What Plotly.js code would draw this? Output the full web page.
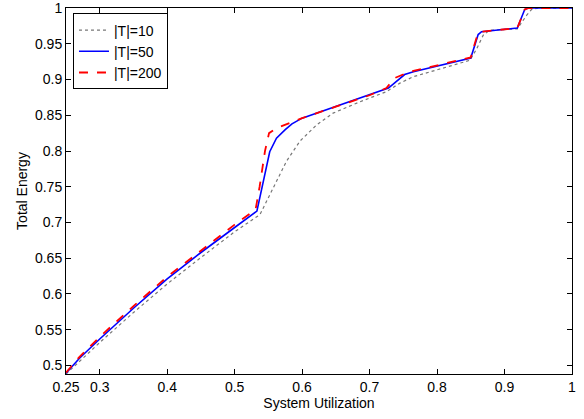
<!DOCTYPE html>
<html>
<head>
<meta charset="utf-8">
<script src="https://cdn.plot.ly/plotly-3.0.1.min.js"></script>
<style>html,body{margin:0;padding:0;background:#fff;}#chart{width:584px;height:419px;}</style>
</head>
<body>
<div id="chart"></div>
<script>
// |T|=10 (dotted)
const x10 = [0.25, 0.27, 0.30, 0.35, 0.40, 0.45, 0.50, 0.5375, 0.555, 0.577, 0.597, 0.622, 0.646, 0.686, 0.725, 0.745, 0.765, 0.849, 0.859, 0.8685, 0.878, 0.919, 0.933, 0.94, 0.95, 1.0];
const y10 = [0.488, 0.506, 0.532, 0.574, 0.614, 0.651, 0.687, 0.711, 0.744, 0.786, 0.814, 0.837, 0.853, 0.869, 0.883, 0.895, 0.904, 0.927, 0.9435, 0.962, 0.969, 0.971, 0.990, 0.998, 1.0, 1.0];
// |T|=50 (solid)
const x50 = [0.25, 0.27, 0.30, 0.35, 0.40, 0.45, 0.50, 0.533, 0.552, 0.562, 0.575, 0.585, 0.60, 0.65, 0.70, 0.728, 0.752, 0.765, 0.85, 0.861, 0.866, 0.919, 0.930, 0.935, 1.0];
const y50 = [0.489, 0.510, 0.537, 0.580, 0.621, 0.658, 0.693, 0.716, 0.799, 0.818, 0.830, 0.838, 0.846, 0.862, 0.878, 0.888, 0.907, 0.911, 0.930, 0.963, 0.967, 0.972, 0.998, 1.0, 1.0];
// |T|=200 (dashed)
const x200 = [0.25, 0.27, 0.30, 0.35, 0.40, 0.45, 0.50, 0.531, 0.537, 0.545, 0.551, 0.562, 0.582, 0.60, 0.65, 0.70, 0.725, 0.737, 0.752, 0.765, 0.85, 0.860, 0.866, 0.919, 0.930, 0.935, 1.0];
const y200 = [0.490, 0.512, 0.540, 0.583, 0.624, 0.661, 0.697, 0.718, 0.750, 0.800, 0.825, 0.832, 0.839, 0.846, 0.862, 0.878, 0.888, 0.902, 0.908, 0.912, 0.931, 0.963, 0.967, 0.972, 0.998, 1.0, 1.0];

const xTickVals = [0.25, 0.3, 0.4, 0.5, 0.6, 0.7, 0.8, 0.9, 1];
const xTickText = ["0.25", "0.3", "0.4", "0.5", "0.6", "0.7", "0.8", "0.9", "1"];
const yTickVals = [0.5, 0.55, 0.6, 0.65, 0.7, 0.75, 0.8, 0.85, 0.9, 0.95, 1];
const yTickText = ["0.5", "0.55", "0.6", "0.65", "0.7", "0.75", "0.8", "0.85", "0.9", "0.95", "1"];

const traces = [
  {x: x10, y: y10, mode: 'lines', name: '|T|=10', line: {color: '#777777', width: 1.2, dash: 'dot'}},
  {x: x50, y: y50, mode: 'lines', name: '|T|=50', line: {color: '#0000ff', width: 1.6}},
  {x: x200, y: y200, mode: 'lines', name: '|T|=200', line: {color: '#ff0000', width: 1.8, dash: 'dash'}}
];

const font = {family: '"Liberation Sans", Arial, sans-serif', size: 14, color: '#000'};
const axisCommon = {
  showline: true, linecolor: '#000', linewidth: 1, mirror: 'ticks',
  ticks: 'inside', ticklen: 5, tickcolor: '#000', tickwidth: 1,
  showgrid: false, zeroline: false, tickfont: font, ticklabeloverflow: 'allow'
};

const layout = {
  width: 584, height: 419,
  margin: {l: 66, r: 12, t: 8, b: 45},
  paper_bgcolor: '#fff', plot_bgcolor: '#fff',
  font: font,
  showlegend: true,
  legend: {
    x: 0.0138, y: 0.985, xanchor: 'left', yanchor: 'top',
    bgcolor: '#fff', bordercolor: '#000', borderwidth: 1,
    font: font, itemwidth: 30, tracegroupgap: 0
  },
  xaxis: Object.assign({}, axisCommon, {
    range: [0.25, 1.0001], tickvals: xTickVals, ticktext: xTickText,
    title: {text: 'System Utilization', font: font, standoff: 0}
  }),
  yaxis: Object.assign({}, axisCommon, {
    range: [0.488, 1.0001], tickvals: yTickVals, ticktext: yTickText,
    title: {text: 'Total Energy', font: font, standoff: 4}
  })
};

Plotly.newPlot('chart', traces, layout, {staticPlot: true, displayModeBar: false});
</script>
</body>
</html>
